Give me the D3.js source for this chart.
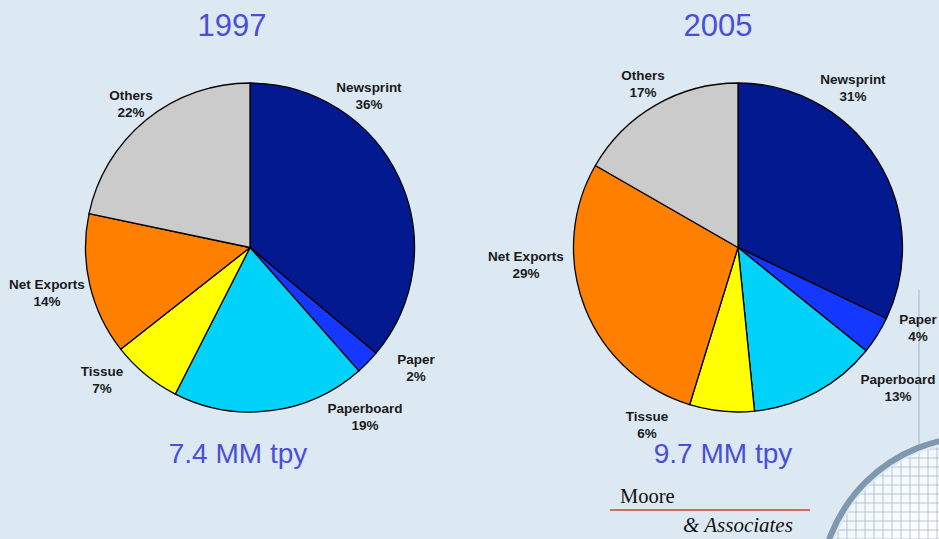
<!DOCTYPE html>
<html><head><meta charset="utf-8">
<script src="https://cdn.jsdelivr.net/npm/d3@7"></script>
<style>html,body{margin:0;padding:0;background:#dde9f2;}svg{display:block;}</style>
</head><body>
<script>
// ---- data ----
const categories = ["Newsprint", "Paper", "Paperboard", "Tissue", "Net Exports", "Others"];
const values1997 = [36.1, 2.4, 19.0, 6.9, 13.9, 21.7];
const labels1997 = ["36%", "2%", "19%", "7%", "14%", "22%"];
const values2005 = [32.1, 3.7, 12.6, 6.35, 28.55, 16.7];
const labels2005 = ["31%", "4%", "13%", "6%", "29%", "17%"];
const titles = ["1997", "2005"];
const totals = ["7.4 MM tpy", "9.7 MM tpy"];

// ---- style / layout ----
const colors = ["#03198f", "#1438ff", "#00d2fa", "#ffff00", "#ff7f00", "#cbcbcb"];
const W = 939, H = 539;
const svg = d3.select("body").append("svg").attr("width", W).attr("height", H);
svg.append("rect").attr("width", W).attr("height", H).attr("fill", "#dde9f2");

// faint decoration
svg.append("line").attr("x1", 919).attr("x2", 919).attr("y1", 290).attr("y2", 450)
  .attr("stroke", "#b9c6d2").attr("stroke-width", 1.5);

// label offsets relative to pie centre (layout only)
const labelOffsets = [
  [[119, -152], [166, 120], [115, 169], [-148, 132], [-203, 45], [-119, -144]],
  [[115, -160], [180, 80], [160, 140], [-91, 177], [-212, 17], [-95, -164]]
];
const pies = [
  {cx: 250, cy: 247.5, r: 164.5, values: values1997, labels: labels1997, titleX: 232, totalX: 238},
  {cx: 738, cy: 247.5, r: 164.5, values: values2005, labels: labels2005, titleX: 718, totalX: 723}
];

const pie = d3.pie().sort(null).value(d => d);
pies.forEach((p, i) => {
  const g = svg.append("g").attr("transform", `translate(${p.cx},${p.cy})`);
  const arc = d3.arc().innerRadius(0).outerRadius(p.r);
  g.selectAll("path").data(pie(p.values)).join("path")
    .attr("d", arc).attr("fill", (d, j) => colors[j])
    .attr("stroke", "#000").attr("stroke-width", 1.3).attr("stroke-linejoin", "round");
  const lab = g.selectAll("text.lab").data(categories).join("text")
    .attr("class", "lab")
    .attr("text-anchor", "middle")
    .attr("font-family", "Liberation Sans, Arial, sans-serif")
    .attr("font-weight", "bold").attr("font-size", 13.5).attr("fill", "#1a1a1a");
  lab.append("tspan").attr("x", (d, j) => labelOffsets[i][j][0])
    .attr("y", (d, j) => labelOffsets[i][j][1] - 4).text(d => d);
  lab.append("tspan").attr("x", (d, j) => labelOffsets[i][j][0])
    .attr("y", (d, j) => labelOffsets[i][j][1] + 13.5).text((d, j) => p.labels[j]);

  svg.append("text").attr("x", p.titleX).attr("y", 36).attr("text-anchor", "middle")
    .attr("font-family", "Liberation Sans, Arial, sans-serif").attr("font-size", 31)
    .attr("fill", "#4a4fd8").text(titles[i]);
  svg.append("text").attr("x", p.totalX).attr("y", 463).attr("text-anchor", "middle")
    .attr("font-family", "Liberation Sans, Arial, sans-serif").attr("font-size", 28)
    .attr("fill", "#4a4fd8").text(totals[i]);
});

// globe logo
const defs = svg.append("defs");
const grad = defs.append("radialGradient").attr("id", "gl").attr("cx", "35%").attr("cy", "30%").attr("r", "70%");
grad.append("stop").attr("offset", "0%").attr("stop-color", "#ffffff");
grad.append("stop").attr("offset", "60%").attr("stop-color", "#e9f3f8");
grad.append("stop").attr("offset", "100%").attr("stop-color", "#bcd3e0");
defs.append("clipPath").attr("id", "gc").append("circle").attr("cx", 975).attr("cy", 592).attr("r", 150);
svg.append("circle").attr("cx", 975).attr("cy", 592).attr("r", 155)
  .attr("fill", "none").attr("stroke", "#7f98ad").attr("stroke-width", 6);
svg.append("circle").attr("cx", 975).attr("cy", 592).attr("r", 150).attr("fill", "url(#gl)");
const grid = svg.append("g").attr("clip-path", "url(#gc)");
d3.range(820, 940, 9).forEach(x => grid.append("line").attr("x1", x).attr("x2", x).attr("y1", 430).attr("y2", 539)
  .attr("stroke", "#9fb3c2").attr("stroke-width", 0.7));
d3.range(440, 540, 9).forEach(y => grid.append("line").attr("x1", 815).attr("x2", 939).attr("y1", y).attr("y2", y)
  .attr("stroke", "#9fb3c2").attr("stroke-width", 0.7));

svg.append("text").attr("x", 620).attr("y", 503).attr("font-family", "Liberation Serif, Times New Roman, serif")
  .attr("font-size", 20.5).attr("fill", "#111").text("Moore");
svg.append("line").attr("x1", 610).attr("x2", 810).attr("y1", 510).attr("y2", 510)
  .attr("stroke", "#d04030").attr("stroke-width", 1.3);
svg.append("text").attr("x", 683).attr("y", 532).attr("font-family", "Liberation Serif, Times New Roman, serif")
  .attr("font-style", "italic").attr("font-size", 21).attr("fill", "#111").text("& Associates");
</script>
</body></html>
